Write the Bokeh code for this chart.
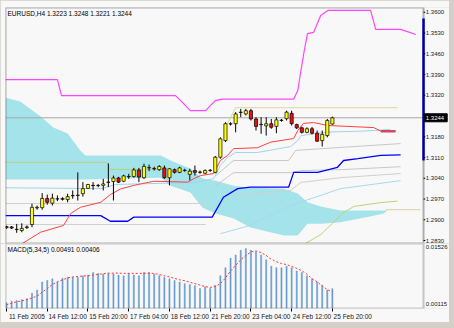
from bokeh.plotting import figure
from bokeh.models import FixedTicker, Label, Range1d, ColumnDataSource, BoxAnnotation
from bokeh.core.properties import value
from bokeh.layouts import column
from bokeh.embed import file_html
from bokeh.resources import INLINE

FONT = "Liberation Sans"

# ---------------- data ----------------
BAR = list(range(65))
OPEN = [1.2877, 1.2876, 1.2867, 1.2864, 1.2874, 1.2884, 1.2940, 1.2941, 1.2972, 1.2956,
        1.2970, 1.2972, 1.2968, 1.2981, 1.2982, 1.2988, 1.3006, 1.3016, 1.3015, 1.3016,
        1.3026, 1.3029, 1.3041, 1.3030, 1.3045, 1.3046, 1.3068, 1.3042, 1.3075, 1.3072,
        1.3069, 1.3075, 1.3042, 1.3069, 1.3060, 1.3066, 1.3053, 1.3066, 1.3060, 1.3057,
        1.3066, 1.3060, 1.3111, 1.3167, 1.3223, 1.3224, 1.3262, 1.3257, 1.3268, 1.3240,
        1.3221, 1.3217, 1.3224, 1.3215, 1.3235, 1.3241, 1.3259, 1.3221, 1.3210, 1.3195,
        1.3207, 1.3192, 1.3167, 1.3184, 1.3223]
HIGH = [1.2880, 1.2879, 1.2886, 1.2888, 1.2881, 1.2954, 1.2948, 1.2990, 1.2985, 1.2988,
        1.2982, 1.2976, 1.2988, 1.2999, 1.3060, 1.3027, 1.3021, 1.3027, 1.3021, 1.3038,
        1.3090, 1.3049, 1.3045, 1.3052, 1.3055, 1.3075, 1.3075, 1.3089, 1.3086, 1.3079,
        1.3084, 1.3083, 1.3074, 1.3073, 1.3079, 1.3072, 1.3072, 1.3083, 1.3066, 1.3070,
        1.3071, 1.3115, 1.3178, 1.3229, 1.3229, 1.3263, 1.3274, 1.3274, 1.3274, 1.3246,
        1.3246, 1.3246, 1.3240, 1.3246, 1.3240, 1.3268, 1.3268, 1.3224, 1.3214, 1.3212,
        1.3213, 1.3201, 1.3201, 1.3240, 1.3248]
LOW = [1.2870, 1.2869, 1.2856, 1.2858, 1.2869, 1.2875, 1.2934, 1.2934, 1.2951, 1.2948,
       1.2963, 1.2965, 1.2959, 1.2971, 1.2965, 1.2978, 1.3004, 1.3001, 1.3010, 1.2999,
       1.3010, 1.2965, 1.3024, 1.3027, 1.3038, 1.3042, 1.3027, 1.3038, 1.3064, 1.3066,
       1.3065, 1.3038, 1.3016, 1.3056, 1.3057, 1.3062, 1.3033, 1.3049, 1.3055, 1.3054,
       1.3062, 1.3057, 1.3106, 1.3162, 1.3218, 1.3195, 1.3246, 1.3252, 1.3235, 1.3201,
       1.3190, 1.3184, 1.3207, 1.3192, 1.3231, 1.3235, 1.3218, 1.3206, 1.3191, 1.3192,
       1.3188, 1.3163, 1.3147, 1.3178, 1.3221]
CLOSE = [1.2873, 1.2872, 1.2868, 1.2871, 1.2876, 1.2942, 1.2942, 1.2972, 1.2959, 1.2973,
         1.2971, 1.2969, 1.2978, 1.2982, 1.2983, 1.3005, 1.3019, 1.3015, 1.3016, 1.3021,
         1.3027, 1.3041, 1.3027, 1.3048, 1.3046, 1.3068, 1.3044, 1.3080, 1.3076, 1.3073,
         1.3080, 1.3042, 1.3072, 1.3060, 1.3075, 1.3067, 1.3064, 1.3060, 1.3061, 1.3066,
         1.3067, 1.3111, 1.3173, 1.3224, 1.3224, 1.3257, 1.3263, 1.3268, 1.3240, 1.3215,
         1.3222, 1.3224, 1.3212, 1.3237, 1.3236, 1.3263, 1.3224, 1.3210, 1.3195, 1.3207,
         1.3192, 1.3165, 1.3188, 1.3235, 1.3244]

PINK_X = [-0.2, 10.0, 10.8, 33.2, 34.6, 36.1, 39.1, 41.0, 42.4, 56.4, 57.2, 58.3, 59.1, 60.3,
          61.7, 63.1, 71.5, 72.5, 77.4, 80.4]
PINK_Y = [1.3373, 1.3373, 1.3319, 1.3319, 1.3295, 1.3268, 1.3268, 1.3302, 1.3307, 1.3307,
          1.3336, 1.3454, 1.3528, 1.3532, 1.3589, 1.3606, 1.3606, 1.3542, 1.3542, 1.3525]

RED_X = [3.1, 6.7, 11.2, 12.6, 14.5, 18.5, 20.4, 22.4, 25.0, 28.9, 35.6, 36.7, 38.1, 40.7,
         42.0, 43.4, 44.6, 49.3, 51.9, 56.4, 57.2, 58.3, 60.3, 63.1, 72.1, 73.5, 76.4]
RED_Y = [1.2820, 1.2858, 1.2881, 1.2921, 1.2942, 1.2959, 1.2985, 1.3004, 1.3016, 1.3030,
         1.3027, 1.3038, 1.3049, 1.3056, 1.3100, 1.3117, 1.3140, 1.3143, 1.3162, 1.3174,
         1.3201, 1.3225, 1.3228, 1.3218, 1.3211, 1.3199, 1.3199]
RED_TAIL_X = [73.5, 76.4]
RED_TAIL_Y = [1.3199, 1.3199]

BLUE_X = [-0.2, 18.5, 20.4, 23.8, 25.0, 40.4, 42.6, 45.4, 47.9, 55.4, 56.4, 61.1, 65.0, 66.2,
          69.0, 73.5, 77.4]
BLUE_Y = [1.2914, 1.2914, 1.2895, 1.2895, 1.2909, 1.2909, 1.2976, 1.3005, 1.3010, 1.3010,
          1.3060, 1.3060, 1.3077, 1.3100, 1.3106, 1.3117, 1.3119]

CLOUD_X = [-0.2, 2.7, 6.7, 9.2, 12.0, 14.5, 15.5, 22.4, 30.3, 32.2, 36.1, 38.5, 41.1, 44.6,
           47.9, 54.5, 57.2, 59.1, 61.7, 65.6, 70.9, 74.1, 74.8]
CLOUD_TOP = [1.3312, 1.3299, 1.3248, 1.3211, 1.3191, 1.3134, 1.3117, 1.3117, 1.3117, 1.3100,
             1.3073, 1.3039, 1.3032, 1.3015, 1.3008, 1.3005, 1.2989, 1.2959, 1.2945, 1.2931,
             1.2931, 1.2931, 1.2931]
CLOUD_BOT = [1.3036, 1.3036, 1.3036, 1.3036, 1.3036, 1.3036, 1.3036, 1.3039, 1.3042, 1.3015,
             1.2992, 1.2941, 1.2921, 1.2904, 1.2874, 1.2847, 1.2847, 1.2887, 1.2887, 1.2892,
             1.2909, 1.2921, 1.2931]

OLIVE1_X = [-0.2, 19.7, 20.4, 31.0]
OLIVE1_Y = [1.3094, 1.3094, 1.3070, 1.3070]
OLIVE2_X = [58.7, 61.7, 66.2, 68.2, 73.5, 76.8]
OLIVE2_Y = [1.2820, 1.2850, 1.2924, 1.2945, 1.2958, 1.2963]
KHAKI_X = [43.4, 45.0, 76.8]
KHAKI_Y = [1.3225, 1.3278, 1.3278]
KHAKI2_X = [74.5, 81.3]
KHAKI2_Y = [1.2934, 1.2934]

LB1_X = [-0.2, 18.5, 21.4, 37.1, 40.7, 42.0, 43.4, 45.0, 49.3, 55.8, 57.2, 57.8, 63.1, 70.0, 75.4]
LB1_Y = [1.3008, 1.3005, 1.3019, 1.3026, 1.3039, 1.3083, 1.3110, 1.3127, 1.3127, 1.3147,
         1.3167, 1.3184, 1.3196, 1.3199, 1.3205]
LB2_X = [42.0, 47.9, 55.8, 65.6, 77.4]
LB2_Y = [1.2853, 1.2881, 1.2948, 1.3005, 1.3032]

G1_X = [41.1, 44.6, 55.4, 56.8, 65.6, 77.4]
G1_Y = [1.3049, 1.3100, 1.3100, 1.3134, 1.3144, 1.3157]
G2_X = [41.1, 44.6, 55.8, 57.8, 65.6, 77.4]
G2_Y = [1.3015, 1.3059, 1.3059, 1.3066, 1.3069, 1.3079]
G3_X = [44.6, 55.8, 57.8, 65.6, 77.4]
G3_Y = [1.2981, 1.2999, 1.3026, 1.3042, 1.3056]
GL1_X = [-0.2, 39.1]
GL1_Y = [1.2955, 1.2955]
GL2_X = [-0.2, 39.1]
GL2_Y = [1.2884, 1.2884]

EDGE_Y = [1.3579, 1.3100]

MACD_HIST = [0.00139, 0.00179, 0.00194, 0.00217, 0.00241, 0.00378, 0.00457, 0.00658, 0.00696, 0.00737,
             0.00658, 0.00753, 0.00777, 0.00777, 0.00777, 0.00815, 0.00832, 0.00897, 0.00873, 0.00856,
             0.00873, 0.00856, 0.00832, 0.00815, 0.00873, 0.00832, 0.00815, 0.00897, 0.00897, 0.00856,
             0.00815, 0.00777, 0.00737, 0.00696, 0.00658, 0.00617, 0.00593, 0.00562, 0.00497, 0.00538,
             0.00497, 0.00576, 0.00815, 0.01016, 0.01256, 0.01335, 0.01454, 0.01495, 0.01454, 0.01413,
             0.01335, 0.01215, 0.01055, 0.01016, 0.01016, 0.01055, 0.01016, 0.00935, 0.00897, 0.00815,
             0.00737, 0.00658, 0.00576, 0.00457, 0.00491]
MACD_SIGNAL = [0.00091, 0.00127, 0.00162, 0.00186, 0.00217, 0.00258, 0.00306, 0.00402, 0.00497, 0.00593,
               0.00665, 0.00713, 0.00760, 0.00784, 0.00796, 0.00808, 0.00815, 0.00832, 0.00849, 0.00866,
               0.00880, 0.00880, 0.00880, 0.00875, 0.00875, 0.00875, 0.00873, 0.00875, 0.00878, 0.00873,
               0.00844, 0.00815, 0.00784, 0.00748, 0.00713, 0.00689, 0.00653, 0.00617, 0.00581, 0.00545,
               0.00521, 0.00545, 0.00617, 0.00760, 0.00935, 0.01071, 0.01215, 0.01323, 0.01413, 0.01437,
               0.01394, 0.01323, 0.01227, 0.01167, 0.01119, 0.01095, 0.01047, 0.00999, 0.00940, 0.00856,
               0.00737, 0.00665, 0.00560, 0.00470, 0.00406]

PRICE_TICKS = [1.3600, 1.3530, 1.3460, 1.3390, 1.3320, 1.3180, 1.3110, 1.3040, 1.2970, 1.2900, 1.2830]
MACD_TICKS = [0.01526, 0.00115]
TIME_TICK_BARS = [0, 8, 16, 24, 32, 40, 48, 56, 64]
TIME_LABELS = ["11 Feb 2005", "14 Feb 12:00", "15 Feb 20:00", "17 Feb 04:00", "18 Feb 12:00",
               "21 Feb 20:00", "23 Feb 04:00", "24 Feb 12:00", "25 Feb 20:00"]
HEADER = "EURUSD,H4  1.3223 1.3248 1.3221 1.3244"
MACD_HEADER = "MACD(5,34,5) 0.00491 0.00406"
LAST_PRICE = 1.3244

BG = "#f8f8f8"
X0, XEDGE, XEND = -0.2, 81.9, 87.0        # frame left, chart right edge, canvas right
PY0, PY1 = 1.2820, 1.3616                 # price window
MY0, MY1 = -0.00005, 0.01622              # macd window
LBL_X = 82.35                             # left of the right-hand scale texts

# ---------------- main price panel ----------------
xr = Range1d(X0, XEND)
main = figure(width=449, height=243, x_range=xr, y_range=Range1d(PY0, PY1),
              output_backend="svg", toolbar_location=None, x_axis_location=None,
              y_axis_location=None, min_border_left=5, min_border_right=0,
              min_border_top=7, min_border_bottom=0, background_fill_color=BG,
              border_fill_color=BG, outline_line_color=None)
main.grid.visible = False

main.varea(x=CLOUD_X, y1=CLOUD_BOT, y2=CLOUD_TOP, fill_color="#a4e3e9", fill_alpha=1.0)
main.line([X0, XEDGE], [LAST_PRICE, LAST_PRICE], line_color="#a8a8a8", line_width=1)

main.line(GL1_X, GL1_Y, line_color="#d0d0d0", line_width=1)
main.line(GL2_X, GL2_Y, line_color="#d0d0d0", line_width=1)
main.line(G1_X, G1_Y, line_color="#c8c8c8", line_width=1)
main.line(G2_X, G2_Y, line_color="#c8c8c8", line_width=1)
main.line(G3_X, G3_Y, line_color="#d0d0d0", line_width=1)
main.line(LB1_X, LB1_Y, line_color="#9fd4ee", line_width=1)
main.line(LB2_X, LB2_Y, line_color="#a8d8f0", line_width=1)
main.line(OLIVE1_X, OLIVE1_Y, line_color="#b8d080", line_width=1)
main.line(OLIVE2_X, OLIVE2_Y, line_color="#c4d070", line_width=1)
main.line(KHAKI_X, KHAKI_Y, line_color="#d8d8a0", line_width=1)
main.line(KHAKI2_X, KHAKI2_Y, line_color="#d8d0a0", line_width=1)
main.line(PINK_X, PINK_Y, line_color="#ff44ff", line_width=1.2)
main.line(BLUE_X, BLUE_Y, line_color="#0000ff", line_width=1.3)
main.line(RED_X, RED_Y, line_color="#ff4040", line_width=1)
main.line(RED_TAIL_X, RED_TAIL_Y, line_color="#d04860", line_width=2.5)

body_top = [max(o, c) for o, c in zip(OPEN, CLOSE)]
body_bot = [min(o, c) for o, c in zip(OPEN, CLOSE)]
body_col = ["#ffff00" if c > o else "#ee1010" for o, c in zip(OPEN, CLOSE)]
src = ColumnDataSource(dict(x=BAR, h=HIGH, l=LOW, t=body_top, b=body_bot, c=body_col))
main.segment(x0="x", y0="l", x1="x", y1="h", source=src, line_color="#000000", line_width=1)
main.vbar(x="x", top="t", bottom="b", width=0.62, source=src, fill_color="c",
          line_color="#000000", line_width=0.7)

# chart frame (left, top, bottom black; right edge with blue strip)
main.add_layout(BoxAnnotation(left=X0, right=XEDGE, bottom=PY0, top=PY1, fill_alpha=0,
                              line_color="#000000", line_width=2))
main.line([XEDGE, XEDGE], EDGE_Y, line_color="#0000cc", line_width=2.5)

# right-hand price scale
main.segment(x0=[XEDGE] * len(PRICE_TICKS), x1=[XEDGE + 0.35] * len(PRICE_TICKS),
             y0=PRICE_TICKS, y1=PRICE_TICKS, line_color="#000000", line_width=1)
main.text(x=[LBL_X] * len(PRICE_TICKS), y=PRICE_TICKS, text=[f"{v:.4f}" for v in PRICE_TICKS],
          text_font=value(FONT), text_font_size=value("6px"), text_color="#202020",
          text_baseline="middle", text_align="left")
main.quad(left=[XEDGE + 0.15], right=[XEND - 0.45], bottom=[LAST_PRICE - 0.00135],
          top=[LAST_PRICE + 0.00135], fill_color="#000000", line_color="#000000")
main.text(x=[LBL_X], y=[LAST_PRICE], text=[f"{LAST_PRICE:.4f}"], text_font=value(FONT),
          text_font_size=value("6px"), text_color="#ffffff", text_baseline="middle",
          text_align="left")

main.add_layout(Label(x=0.2, y=1.3597, text=HEADER, text_font=FONT, text_font_size="6.5px",
                      text_color="#000000", text_baseline="middle", text_align="left"))

# ---------------- MACD panel ----------------
macd = figure(width=449, height=79, x_range=xr, y_range=Range1d(MY0, MY1),
              output_backend="svg", toolbar_location=None, y_axis_location=None,
              min_border_left=5, min_border_right=0, min_border_top=0, min_border_bottom=11,
              background_fill_color=BG, border_fill_color=BG, outline_line_color=None)
macd.grid.visible = False
macd.vbar(x=BAR, top=MACD_HIST, bottom=0, width=0.22, fill_color="#6a9bcc",
          line_color="#6a9bcc", line_width=0.5)
macd.line(BAR, MACD_SIGNAL, line_color="#ff3333", line_width=1, line_dash="2 2")
macd.add_layout(BoxAnnotation(left=X0, right=XEDGE, bottom=MY0, top=MY1, fill_alpha=0,
                              line_color="#505050", line_width=2))
macd.add_layout(Label(x=0.2, y=0.01478, text=MACD_HEADER, text_font=FONT, text_font_size="6.5px",
                      text_color="#000000", text_baseline="middle", text_align="left"))
macd.text(x=[LBL_X] * len(MACD_TICKS), y=MACD_TICKS, text=[f"{v:.5f}" for v in MACD_TICKS],
          text_font=value(FONT), text_font_size=value("6px"), text_color="#202020",
          text_baseline="middle", text_align="left")

centers = [b + 4 for b in TIME_TICK_BARS]
macd.xaxis.ticker = FixedTicker(ticks=centers, minor_ticks=TIME_TICK_BARS)
macd.xaxis.major_label_overrides = {c: t for c, t in zip(centers, TIME_LABELS)}
mx = macd.xaxis[0]
mx.major_label_text_font = FONT
mx.major_label_text_font_size = "6.5px"
mx.major_label_text_color = "#202020"
mx.major_label_standoff = 1
mx.major_tick_line_color = None
mx.major_tick_out = 0
mx.major_tick_in = 0
mx.minor_tick_out = 3
mx.minor_tick_in = 0
mx.minor_tick_line_color = "#000000"
mx.axis_line_color = None

layout = column(main, macd, width=454, height=328, styles={"background-color": "#d4d0c8"})

open("out.html", "w").write(file_html(layout, INLINE))
